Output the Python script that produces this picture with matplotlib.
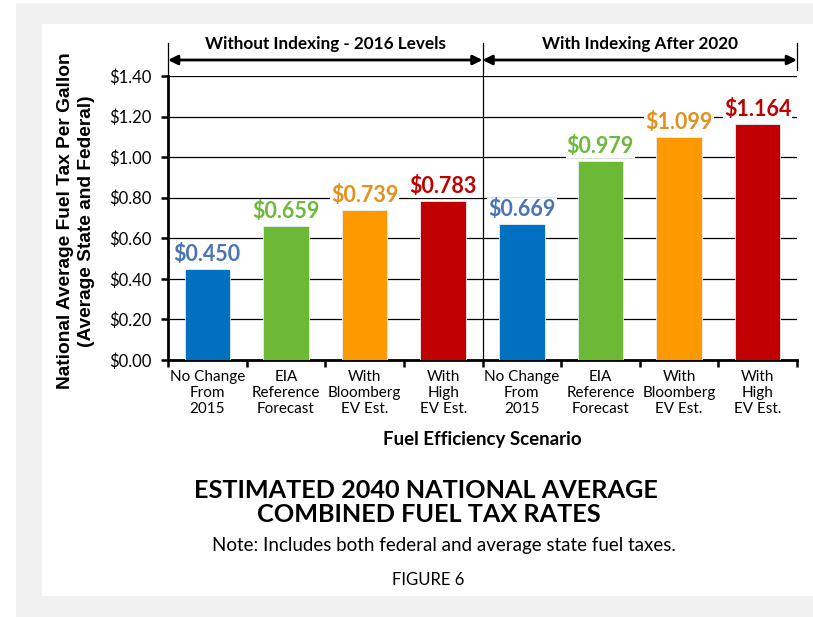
import matplotlib
matplotlib.use('Agg')
import matplotlib.pyplot as plt
from matplotlib.patches import Rectangle
from matplotlib.transforms import blended_transform_factory

plt.rcParams['font.family'] = ['Lato', 'DejaVu Sans']

# data
scenarios = ['No Change\nFrom\n2015', 'EIA\nReference\nForecast',
             'With\nBloomberg\nEV Est.', 'With\nHigh\nEV Est.',
             'No Change\nFrom\n2015', 'EIA\nReference\nForecast',
             'With\nBloomberg\nEV Est.', 'With\nHigh\nEV Est.']
tax_rates = [0.450, 0.659, 0.739, 0.783, 0.669, 0.979, 1.099, 1.164]
groups = ['Without Indexing - 2016 Levels', 'With Indexing After 2020']
y_ticks = [0.0, 0.2, 0.4, 0.6, 0.8, 1.0, 1.2, 1.4]

bar_colors = ['#0070c0', '#6cb935', '#ff9900', '#c00000'] * 2
label_colors = ['#4a74b6', '#6cb93c', '#e3901c', '#c00000'] * 2

fig = plt.figure(figsize=(8.13, 6.17), dpi=100)
W, H = 813.0, 617.0

# gray frame + white panel
fig.patches.append(Rectangle((16 / W, 0), 1 - 16 / W, 1 - 3 / H, transform=fig.transFigure,
                             facecolor='#f0f0f0', edgecolor='none', zorder=-10))
fig.patches.append(Rectangle((42 / W, 21 / H), 1 - 42 / W, (596 - 24) / H, transform=fig.transFigure,
                             facecolor='white', edgecolor='none', zorder=-9))

ax = fig.add_axes([168 / W, 1 - 360 / H, (797 - 168) / W, (360 - 76) / H])
ax.set_facecolor('none')

x = list(range(len(tax_rates)))
ax.bar(x, tax_rates, width=0.58, color=bar_colors, edgecolor='#e8eef5', linewidth=0.6, zorder=3)

for xi, v, c in zip(x, tax_rates, label_colors):
    ax.annotate('${:.3f}'.format(v), (xi, v), xytext=(0, 3), textcoords='offset points',
                ha='center', va='bottom', fontsize=15.5, fontweight='bold', color=c,
                bbox=dict(boxstyle='square,pad=0.05', fc='white', ec='none'), zorder=5)

ax.set_xlim(-0.5, 7.5)
ax.set_ylim(0, 1.4)
ax.set_yticks(y_ticks)
ax.set_yticklabels(['${:.2f}'.format(t) for t in y_ticks], fontsize=12)
ax.yaxis.grid(True, color='black', lw=0.9, zorder=0)
ax.set_axisbelow(True)

ax.set_xticks([i - 0.5 for i in range(9)])
ax.set_xticklabels([])
ax.set_xticks(x, minor=True)
ax.set_xticklabels(scenarios, minor=True, fontsize=11, linespacing=1.2)
ax.tick_params(axis='x', which='minor', length=0, pad=7)
ax.tick_params(axis='x', which='major', length=5, width=1.8, direction='out')
ax.tick_params(axis='y', length=5, width=1.8, direction='out', pad=7)

for s in ['top', 'right']:
    ax.spines[s].set_visible(False)
ax.spines['left'].set_linewidth(2)
ax.spines['bottom'].set_linewidth(2)

ax.set_xlabel('Fuel Efficiency Scenario', fontsize=13.5, fontweight='bold', labelpad=11)

fig.text(76 / W, 1 - 221 / H, 'National Average Fuel Tax Per Gallon\n(Average State and Federal)',
         rotation=90, ha='center', va='center', ma='center', fontsize=13.8,
         fontweight='bold', family='Liberation Sans', linespacing=1.3)

# group brackets
trans = blended_transform_factory(ax.transData, ax.transAxes)
top = 1 + 33 / 284.0
arrow_y = 1 + 16 / 284.0
ax.plot([-0.5, -0.5], [1, top], color='black', lw=0.9, transform=trans, clip_on=False)
ax.plot([3.5, 3.5], [0, top], color='black', lw=0.9, transform=trans, clip_on=False)
ax.plot([7.5, 7.5], [1 + 6 / 284.0, top], color='black', lw=0.9, transform=trans, clip_on=False)
for i, g in enumerate(groups):
    x0, x1 = -0.5 + 4 * i, 3.5 + 4 * i
    ax.annotate('', xy=(x1, arrow_y), xytext=(x0, arrow_y), xycoords=trans, textcoords=trans,
                arrowprops=dict(arrowstyle='<|-|>', lw=2, color='black', mutation_scale=14,
                                shrinkA=0, shrinkB=0), annotation_clip=False)
    ax.text((x0 + x1) / 2, 1 + 32 / 284.0, g, transform=trans, ha='center', va='center',
            fontsize=12.3, fontweight='bold')

fig.text(426 / W, 1 - 490 / H, 'ESTIMATED 2040 NATIONAL AVERAGE', ha='center', va='center',
         fontsize=18.2, fontweight='bold')
fig.text(429 / W, 1 - 515 / H, 'COMBINED FUEL TAX RATES', ha='center', va='center',
         fontsize=18.2, fontweight='bold')
fig.text(444 / W, 1 - 545 / H, 'Note: Includes both federal and average state fuel taxes.',
         ha='center', va='center', fontsize=13.5)
fig.text(428 / W, 1 - 580 / H, 'FIGURE 6', ha='center', va='center', fontsize=12)

fig.savefig('out.png', dpi=100)
